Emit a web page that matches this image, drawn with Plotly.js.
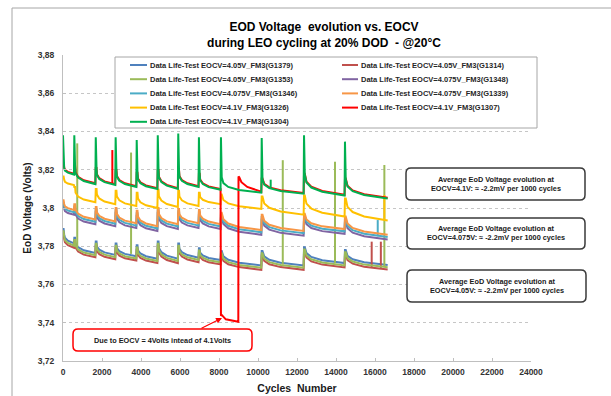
<!DOCTYPE html>
<html><head><meta charset="utf-8">
<script src="https://cdn.plot.ly/plotly-3.0.1.min.js"></script>
<style>html,body{margin:0;padding:0;background:#fff;} #chart{width:611px;height:396px;}</style>
</head><body><div id="chart"></div>
<script>
// ---------- DATA ----------
const cycles = [
0, 30, 60, 100, 250, 560,
580, 620, 645, 775, 1065, 1660,
1680, 1720, 1740, 1860, 2130, 2680,
2700, 2740, 2765, 2890, 3175, 3760,
3780, 3820, 3845, 3970, 4255, 4840,
4860, 4900, 4920, 5045, 5325, 5890,
5910, 5950, 5970, 6095, 6380, 6950,
6970, 7010, 7035, 7170, 7470, 8080,
8100, 8140, 8225, 8475, 9030, 10170,
10190, 10230, 10320, 10580, 11160, 12340,
12360, 12400, 12485, 12735, 13295, 14440,
14460, 14500, 14590, 14855, 15445, 16650];

const cyclesG1307 = [
0, 30, 60, 100, 250, 560,
580, 620, 645, 775, 1065, 1660,
1680, 1720, 1740, 1860, 2130, 2680,
2700, 2740, 2765, 2890, 3175, 3760,
3780, 3820, 3845, 3970, 4255, 4840,
4860, 4900, 4920, 5045, 5325, 5890,
5910, 5950, 5970, 6095, 6380, 6950,
6970, 7010, 7035, 7170, 7470, 8080,
8100, 8140, 8350, 8700, 8990, 9000, 9040, 9150, 9450, 10170,
10190, 10230, 10320, 10580, 11160, 12340,
12360, 12400, 12485, 12735, 13295, 14440,
14460, 14500, 14590, 14855, 15445, 16650];

const vG1379 = [
3.7890, 3.7890, 3.7862, 3.7844, 3.7829, 3.7815,
3.7845, 3.7845, 3.7815, 3.7795, 3.7779, 3.7765,
3.7825, 3.7825, 3.7798, 3.7782, 3.7768, 3.7755,
3.7815, 3.7815, 3.7790, 3.7774, 3.7760, 3.7748,
3.7805, 3.7805, 3.7778, 3.7762, 3.7748, 3.7735,
3.7825, 3.7825, 3.7791, 3.7769, 3.7751, 3.7735,
3.7815, 3.7815, 3.7787, 3.7769, 3.7754, 3.7740,
3.7790, 3.7790, 3.7766, 3.7752, 3.7739, 3.7728,
3.7775, 3.7775, 3.7747, 3.7729, 3.7714, 3.7700,
3.7775, 3.7775, 3.7747, 3.7729, 3.7714, 3.7700,
3.7795, 3.7795, 3.7764, 3.7744, 3.7727, 3.7712,
3.7780, 3.7780, 3.7750, 3.7732, 3.7716, 3.7702];

const vG1314 = [
3.7867, 3.7867, 3.7839, 3.7821, 3.7806, 3.7792,
3.7822, 3.7822, 3.7792, 3.7772, 3.7756, 3.7742,
3.7802, 3.7802, 3.7775, 3.7759, 3.7745, 3.7732,
3.7792, 3.7792, 3.7767, 3.7751, 3.7737, 3.7725,
3.7782, 3.7782, 3.7755, 3.7739, 3.7725, 3.7712,
3.7802, 3.7802, 3.7768, 3.7746, 3.7728, 3.7712,
3.7792, 3.7792, 3.7764, 3.7746, 3.7731, 3.7717,
3.7767, 3.7767, 3.7743, 3.7729, 3.7716, 3.7705,
3.7752, 3.7752, 3.7724, 3.7706, 3.7691, 3.7677,
3.7752, 3.7752, 3.7724, 3.7706, 3.7691, 3.7677,
3.7772, 3.7772, 3.7741, 3.7721, 3.7704, 3.7689,
3.7757, 3.7757, 3.7727, 3.7709, 3.7693, 3.7679];

const vG1353 = [
3.7878, 3.7878, 3.7850, 3.7832, 3.7817, 3.7803,
3.7833, 3.7833, 3.7803, 3.7783, 3.7767, 3.7753,
3.7813, 3.7813, 3.7786, 3.7770, 3.7756, 3.7743,
3.7803, 3.7803, 3.7778, 3.7762, 3.7748, 3.7736,
3.7793, 3.7793, 3.7766, 3.7750, 3.7736, 3.7723,
3.7813, 3.7813, 3.7779, 3.7757, 3.7739, 3.7723,
3.7803, 3.7803, 3.7775, 3.7757, 3.7742, 3.7728,
3.7778, 3.7778, 3.7754, 3.7740, 3.7727, 3.7716,
3.7763, 3.7763, 3.7735, 3.7717, 3.7702, 3.7688,
3.7763, 3.7763, 3.7735, 3.7717, 3.7702, 3.7688,
3.7783, 3.7783, 3.7752, 3.7732, 3.7715, 3.7700,
3.7768, 3.7768, 3.7738, 3.7720, 3.7704, 3.7690];

const vG1348 = [
3.8015, 3.8015, 3.7996, 3.7984, 3.7974, 3.7965,
3.7995, 3.7995, 3.7965, 3.7945, 3.7929, 3.7915,
3.7980, 3.7980, 3.7952, 3.7934, 3.7919, 3.7905,
3.7975, 3.7975, 3.7945, 3.7925, 3.7909, 3.7895,
3.7960, 3.7960, 3.7930, 3.7910, 3.7894, 3.7880,
3.7975, 3.7975, 3.7943, 3.7922, 3.7905, 3.7890,
3.7970, 3.7970, 3.7942, 3.7924, 3.7909, 3.7895,
3.7965, 3.7965, 3.7937, 3.7919, 3.7904, 3.7890,
3.7950, 3.7950, 3.7916, 3.7894, 3.7876, 3.7860,
3.7940, 3.7940, 3.7908, 3.7887, 3.7870, 3.7855,
3.7945, 3.7945, 3.7915, 3.7895, 3.7879, 3.7865,
3.7930, 3.7930, 3.7894, 3.7871, 3.7852, 3.7835];

const vG1346 = [
3.8028, 3.8028, 3.8009, 3.7997, 3.7987, 3.7978,
3.8008, 3.8008, 3.7978, 3.7958, 3.7942, 3.7928,
3.7993, 3.7993, 3.7965, 3.7947, 3.7932, 3.7918,
3.7988, 3.7988, 3.7958, 3.7938, 3.7922, 3.7908,
3.7973, 3.7973, 3.7943, 3.7923, 3.7907, 3.7893,
3.7988, 3.7988, 3.7956, 3.7935, 3.7918, 3.7903,
3.7983, 3.7983, 3.7955, 3.7937, 3.7922, 3.7908,
3.7978, 3.7978, 3.7950, 3.7932, 3.7917, 3.7903,
3.7963, 3.7963, 3.7929, 3.7907, 3.7889, 3.7873,
3.7953, 3.7953, 3.7921, 3.7900, 3.7883, 3.7868,
3.7958, 3.7958, 3.7928, 3.7908, 3.7892, 3.7878,
3.7943, 3.7943, 3.7907, 3.7884, 3.7865, 3.7848];

const vG1339 = [
3.8040, 3.8040, 3.8021, 3.8009, 3.7999, 3.7990,
3.8020, 3.8020, 3.7990, 3.7970, 3.7954, 3.7940,
3.8005, 3.8005, 3.7977, 3.7959, 3.7944, 3.7930,
3.8000, 3.8000, 3.7970, 3.7950, 3.7934, 3.7920,
3.7985, 3.7985, 3.7955, 3.7935, 3.7919, 3.7905,
3.8000, 3.8000, 3.7968, 3.7947, 3.7930, 3.7915,
3.7995, 3.7995, 3.7967, 3.7949, 3.7934, 3.7920,
3.7990, 3.7990, 3.7962, 3.7944, 3.7929, 3.7915,
3.7975, 3.7975, 3.7941, 3.7919, 3.7901, 3.7885,
3.7965, 3.7965, 3.7933, 3.7912, 3.7895, 3.7880,
3.7970, 3.7970, 3.7940, 3.7920, 3.7904, 3.7890,
3.7955, 3.7955, 3.7919, 3.7896, 3.7877, 3.7860];

const vG1326 = [
3.8165, 3.8165, 3.8148, 3.8137, 3.8128, 3.8120,
3.8110, 3.8110, 3.8080, 3.8060, 3.8044, 3.8030,
3.8100, 3.8100, 3.8070, 3.8050, 3.8034, 3.8020,
3.8090, 3.8090, 3.8060, 3.8040, 3.8024, 3.8010,
3.8080, 3.8080, 3.8050, 3.8030, 3.8014, 3.8000,
3.8095, 3.8095, 3.8061, 3.8039, 3.8021, 3.8005,
3.8090, 3.8090, 3.8060, 3.8040, 3.8024, 3.8010,
3.8080, 3.8080, 3.8057, 3.8043, 3.8031, 3.8020,
3.8070, 3.8070, 3.8042, 3.8024, 3.8009, 3.7995,
3.8060, 3.8060, 3.8024, 3.8001, 3.7982, 3.7965,
3.8065, 3.8065, 3.8023, 3.7997, 3.7975, 3.7955,
3.8050, 3.8050, 3.8006, 3.7979, 3.7956, 3.7935];

const vG1307 = [
3.8234, 3.8234, 3.8213, 3.8200, 3.8189, 3.8179,
3.8219, 3.8219, 3.8185, 3.8163, 3.8145, 3.8129,
3.8209, 3.8209, 3.8177, 3.8156, 3.8139, 3.8124,
3.8199, 3.8199, 3.8167, 3.8146, 3.8129, 3.8114,
3.8184, 3.8184, 3.8154, 3.8134, 3.8118, 3.8104,
3.8199, 3.8199, 3.8163, 3.8140, 3.8121, 3.8104,
3.8199, 3.8199, 3.8167, 3.8146, 3.8129, 3.8114,
3.8179, 3.8179, 3.8149, 3.8129, 3.8113, 3.8099,
3.7436, 3.7441, 3.7418, 3.7410, 3.7405, 3.8165, 3.8160, 3.8135, 3.8110, 3.8085,
3.8154, 3.8154, 3.8126, 3.8108, 3.8093, 3.8079,
3.8179, 3.8179, 3.8137, 3.8111, 3.8089, 3.8069,
3.8154, 3.8154, 3.8116, 3.8092, 3.8072, 3.8054];

const vG1304 = [
3.8380, 3.8230, 3.8209, 3.8196, 3.8185, 3.8175,
3.8380, 3.8215, 3.8181, 3.8159, 3.8141, 3.8125,
3.8370, 3.8205, 3.8173, 3.8152, 3.8135, 3.8120,
3.8370, 3.8195, 3.8163, 3.8142, 3.8125, 3.8110,
3.8356, 3.8180, 3.8150, 3.8130, 3.8114, 3.8100,
3.8380, 3.8195, 3.8159, 3.8136, 3.8117, 3.8100,
3.8390, 3.8195, 3.8163, 3.8142, 3.8125, 3.8110,
3.8370, 3.8175, 3.8145, 3.8125, 3.8109, 3.8095,
3.8370, 3.8160, 3.8130, 3.8110, 3.8094, 3.8080,
3.8366, 3.8150, 3.8122, 3.8104, 3.8089, 3.8075,
3.8380, 3.8175, 3.8133, 3.8107, 3.8085, 3.8065,
3.8347, 3.8150, 3.8112, 3.8088, 3.8068, 3.8050];

// isolated check-up spikes: cycle, base voltage, peak voltage
const spikeCyclesG1353 = [730, 3490, 11270, 13950, 16480];
const spikeBaseG1353   = [3.7795, 3.7760, 3.7705, 3.7712, 3.7692];
const spikeTopG1353    = [3.8338, 3.8290, 3.8250, 3.8242, 3.8225];
const spikeCyclesG1314 = [15830, 16300];
const spikeBaseG1314   = [3.7688, 3.7682];
const spikeTopG1314    = [3.7824, 3.7824];
const spikeCyclesG1346 = [16140];
const spikeBaseG1346   = [3.7852];
const spikeTopG1346    = [3.7937];
const spikeCyclesG1326 = [16480];
const spikeBaseG1326   = [3.7938];
const spikeTopG1326    = [3.8068];
const spikeCyclesG1307 = [2530];
const spikeBaseG1307   = [3.8130];
const spikeTopG1307    = [3.8303];
const spikeCyclesG1304 = [10650];
const spikeBaseG1304   = [3.8100];
const spikeTopG1304    = [3.8148];

const seriesNames = [
 'Data Life-Test EOCV=4.05V_FM3(G1379)', 'Data Life-Test EOCV=4.05V_FM3(G1314)',
 'Data Life-Test EOCV=4.05V_FM3(G1353)', 'Data Life-Test EOCV=4.075V_FM3(G1348)',
 'Data Life-Test EOCV=4.075V_FM3(G1346)', 'Data Life-Test EOCV=4.075V_FM3(G1339)',
 'Data Life-Test EOCV=4.1V_FM3(G1326)', 'Data Life-Test EOCV=4.1V_FM3(G1307)',
 'Data Life-Test EOCV=4.1V_FM3(G1304)'];
const seriesColors = ['#4F81BD','#C0504D','#9BBB59','#8064A2','#4BACC6','#F79646','#FFC000','#FF0000','#00B050'];

const xTickVals = [0,2000,4000,6000,8000,10000,12000,14000,16000,18000,20000,22000,24000];
const xTickText = ['0','2000','4000','6000','8000','10000','12000','14000','16000','18000','20000','22000','24000'];
const yTickVals = [3.72,3.74,3.76,3.78,3.80,3.82,3.84,3.86,3.88];
const yTickText = ['3,72','3,74','3,76','3,78','3,8','3,82','3,84','3,86','3,88'];

const boxTexts = [
 'Average EoD Voltage evolution at<br>EOCV=4.1V: \u2248 -2.2mV per 1000 cycles',
 'Average EoD Voltage evolution at<br>EOCV=4.075V: \u2248 -2.2mV per 1000 cycles',
 'Average EoD Voltage evolution at<br>EOCV=4.05V: \u2248 -2.2mV per 1000 cycles'];
const noteText = 'Due to EOCV = 4Volts intead of 4.1Volts';

// ---------- BUILD ----------
const seriesX = [cycles, cycles, cycles, cycles, cycles, cycles, cycles, cyclesG1307, cycles];
const seriesY = [vG1379, vG1314, vG1353, vG1348, vG1346, vG1339, vG1326, vG1307, vG1304];
const spikes = [
 null, [spikeCyclesG1314, spikeBaseG1314, spikeTopG1314], [spikeCyclesG1353, spikeBaseG1353, spikeTopG1353],
 null, [spikeCyclesG1346, spikeBaseG1346, spikeTopG1346], null,
 [spikeCyclesG1326, spikeBaseG1326, spikeTopG1326], [spikeCyclesG1307, spikeBaseG1307, spikeTopG1307],
 [spikeCyclesG1304, spikeBaseG1304, spikeTopG1304]];

const LW = 2;
const traces = [];
for (let i = 0; i < seriesNames.length; i++) {
  traces.push({type:'scatter', mode:'lines', name: seriesNames[i], x: seriesX[i], y: seriesY[i],
    line:{color: seriesColors[i], width: LW}, showlegend:false, hoverinfo:'skip'});
  if (spikes[i]) {
    const sx = [], sy = [];
    spikes[i][0].forEach((c, k) => { sx.push(c, c, null); sy.push(spikes[i][1][k], spikes[i][2][k], null); });
    traces.push({type:'scatter', mode:'lines', x: sx, y: sy, line:{color: seriesColors[i], width: LW},
      showlegend:false, hoverinfo:'skip', connectgaps:false});
  }
}

// pixel -> paper helpers for decorations
const W = 611, H = 396, L = 63, R = 531, T = 55, B = 361;
const px = x => (x - L) / (R - L);
const py = y => (B - y) / (B - T);
function rrect(x0, y0, x1, y1, r) {
  const a = px(x0), b = px(x1), t = py(y0), u = py(y1), rx = r / (R - L), ry = r / (B - T);
  return `M ${a+rx},${t} L ${b-rx},${t} Q ${b},${t} ${b},${t-ry} L ${b},${u+ry} Q ${b},${u} ${b-rx},${u} ` +
         `L ${a+rx},${u} Q ${a},${u} ${a},${u+ry} L ${a},${t-ry} Q ${a},${t} ${a+rx},${t} Z`;
}

const FONT = 'Liberation Sans, Arial, sans-serif';
const shapes = [];
const annotations = [];

// chart-area frame
shapes.push({type:'rect', xref:'paper', yref:'paper', x0: px(12), x1: px(640), y0: py(8), y1: py(420),
  line:{color:'#a6a6a6', width:1}, fillcolor:'rgba(0,0,0,0)', layer:'above'});

// legend box + entries
shapes.push({type:'rect', xref:'paper', yref:'paper', x0: px(115), x1: px(537), y0: py(57), y1: py(128),
  line:{color:'#a6a6a6', width:1}, fillcolor:'#ffffff', layer:'above'});
seriesNames.forEach((nm, i) => {
  const col = i % 2, row = Math.floor(i / 2);
  const yy = 65 + row * 14.2;
  const lx0 = col ? 342 : 130, lx1 = col ? 358 : 147, tx = col ? 359 : 148;
  shapes.push({type:'line', xref:'paper', yref:'paper', x0: px(lx0), x1: px(lx1), y0: py(yy), y1: py(yy),
    line:{color: seriesColors[i], width: 2}, layer:'above'});
  annotations.push({xref:'paper', yref:'paper', x: px(tx), y: py(yy), xanchor:'left', yanchor:'middle',
    text: nm, showarrow:false, font:{family: FONT, size: 7.5, color:'#262626', weight:'bold'}});
});

// rounded info boxes
const boxes = [[406,168,585,200],[407,218,585,249],[407,270,586,302]];
boxes.forEach((bx, i) => {
  shapes.push({type:'path', xref:'paper', yref:'paper', path: rrect(bx[0], bx[1], bx[2], bx[3], 5),
    line:{color:'#3a3a3a', width:1.5}, fillcolor:'#ffffff', layer:'above'});
  annotations.push({xref:'paper', yref:'paper', x: px((bx[0]+bx[2])/2), y: py((bx[1]+bx[3])/2),
    xanchor:'center', yanchor:'middle', text: boxTexts[i], showarrow:false, align:'center',
    font:{family: FONT, size: 7.3, color:'#1a1a1a', weight:'bold'}});
});

// red note box + arrow
shapes.push({type:'path', xref:'paper', yref:'paper', path: rrect(73, 329, 252, 351, 5),
  line:{color:'#FF0000', width:1.5}, fillcolor:'#ffffff', layer:'above'});
annotations.push({xref:'paper', yref:'paper', x: px(162.5), y: py(340), xanchor:'center', yanchor:'middle',
  text: noteText, showarrow:false, font:{family: FONT, size: 7.3, color:'#1a1a1a', weight:'bold'}});
annotations.push({xref:'x', yref:'y', x: 8154, y: 3.7425, text:'', showarrow:true, ax:-22, ay:11,
  arrowcolor:'#FF0000', arrowwidth:1.2, arrowhead:2, arrowsize:1, standoff:0});

const NB = '\u00a0';
const layout = {
  width: W, height: H,
  margin: {l: L, r: W - R, t: T, b: H - B, pad: 0},
  paper_bgcolor:'#ffffff', plot_bgcolor:'#ffffff',
  showlegend:false,
  font:{family: FONT},
  title:{text:'EOD Voltage\u00a0 evolution vs. EOCV<br>during LEO cycling at 20% DOD\u00a0 - @20°C',
    font:{family: FONT, size: 12, color:'#000', weight:'bold'},
    x: 324 / W, xanchor:'center', xref:'container', y: 1 - 31 / H, yanchor:'middle', yref:'container'},
  xaxis:{range:[0, 24000], tickvals: xTickVals, ticktext: xTickText, showgrid:false, zeroline:false,
    showline:true, linecolor:'#bfbfbf', linewidth:1, ticks:'inside', ticklen:3, tickcolor:'#bfbfbf',
    tickfont:{family: FONT, size: 8.5, color:'#333', weight:'bold'}, ticklabelstandoff: 3,
    title:{text:'Cycles\u00a0 Number', font:{family: FONT, size: 10.5, color:'#1a1a1a', weight:'bold'}, standoff: 8},
    automargin:false, fixedrange:true},
  yaxis:{range:[3.72, 3.88], tickvals: yTickVals, ticktext: yTickText, showgrid:true, gridcolor:'#c6c6c6',
    griddash:'3px,3px', gridwidth:1, zeroline:false, showline:true, linecolor:'#bfbfbf', linewidth:1,
    ticks:'inside', ticklen:3, tickcolor:'#bfbfbf', ticklabelstandoff: 6,
    tickfont:{family: FONT, size: 8.5, color:'#333', weight:'bold'},
    title:{text: NB.repeat(14) + 'EoD Voltage (Volts)', font:{family: FONT, size: 10, color:'#1a1a1a', weight:'bold'}, standoff: 4},
    automargin:false, fixedrange:true},
  shapes: shapes, annotations: annotations
};

Plotly.newPlot('chart', traces, layout, {staticPlot:true, displayModeBar:false});
</script>
</body></html>
